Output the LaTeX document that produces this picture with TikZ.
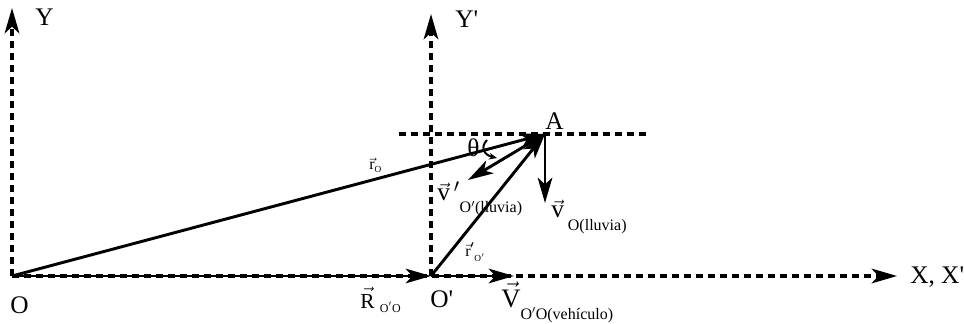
\documentclass[tikz,border=0pt]{standalone}
\usepackage{amsmath}
\usepackage{fontspec}
\setmainfont{Liberation Serif}
\usetikzlibrary{arrows.meta}
\newcommand{\vc}[1]{$\vec{\text{#1}}$}
\newcommand{\ap}{\textquotesingle}
\begin{document}
\begin{tikzpicture}[x=0.75pt,y=-0.75pt,
  ax/.style={line width=2.4pt,dash pattern=on 5.5pt off 3.5pt},
  vecl/.style={line width=2.2pt},
  tip/.style={-{Stealth[length=19pt,width=11pt,inset=5pt]}},
  lbl/.style={inner sep=0pt,anchor=base west,font=\fontsize{19}{21}\selectfont},
  vlbl/.style={inner sep=0pt,anchor=base west}]
\useasboundingbox (0,0) rectangle (964,324);
\coordinate (O) at (12,276);
\coordinate (Op) at (431,276);
\coordinate (A) at (545,134);
\coordinate (Yt) at (12,8);
\coordinate (Ypt) at (431,14);
\coordinate (Xt) at (897,276);
\coordinate (HL) at (399,134);
\coordinate (HR) at (646,134);
\coordinate (vt) at (545,203);
\coordinate (vpt) at (468,180);
\coordinate (Vt) at (514,276);
\coordinate (th1) at (487,140);
\coordinate (th2) at (497,158);

\draw[ax] (HL) -- (HR);
\draw[ax,tip] (O) -- (Yt);
\draw[ax,tip] (O) -- (Xt);
\draw[ax,tip] (Op) -- (Ypt);
\draw[vecl,tip] (O) -- (Op);
\draw[vecl,tip] (Op) -- (Vt);
\draw[vecl,tip] (O) -- (A);
\draw[vecl,tip] (Op) -- (A);
\draw[vecl,tip] (A) -- (vt);
\draw[vecl,tip] (A) -- (vpt);
\draw[line width=1.5pt,-{Stealth[length=6pt,width=5pt]}] (th1) .. controls (480,147) and (484,155) .. (th2);

\node[lbl] (lY) at (35,26) {Y};
\node[lbl] (lYp) at (455,28) {Y\ap};
\node[lbl] (lX) at (910,283) {X, X\ap};
\node[lbl] (lO) at (10,313) {O};
\node[lbl] (lOp) at (430,307) {O\ap};
\node[lbl] (lA) at (545,130) {A};
\node[lbl] (lth) at (467,157) {θ};

\node[vlbl] (lvO) at (551,218) {\fontsize{19}{20}\selectfont\vc{v}\hspace{3pt}\raisebox{-9.5pt}{\fontsize{12}{13}\selectfont O(lluvia)}};
\node[vlbl] (lvp) at (437,201) {\fontsize{19}{20}\selectfont$\vec{\text{v}}\,'$\raisebox{-9pt}{\fontsize{12}{13}\selectfont O$'$(lluvia)}};
\node[vlbl] (lV) at (501,307) {\fontsize{20}{22}\selectfont\vc{V}\raisebox{-9.5pt}{\fontsize{12}{13}\selectfont O$'$O(vehículo)}};
\node[vlbl] (lR) at (360,308) {\fontsize{16}{18}\selectfont\vc{R}\hspace{4pt}\raisebox{-3pt}{\fontsize{9}{10}\selectfont O$'$O}};
\node[vlbl] (lr) at (369,170) {\fontsize{12}{14}\selectfont\vc{r}\raisebox{-2pt}{\fontsize{7}{8}\selectfont O}};
\node[vlbl] (lrp) at (465,256) {\fontsize{12}{14}\selectfont$\vec{\text{r}}'$\raisebox{-4pt}{\fontsize{7}{8}\selectfont O$'$}};
\end{tikzpicture}
\end{document}
